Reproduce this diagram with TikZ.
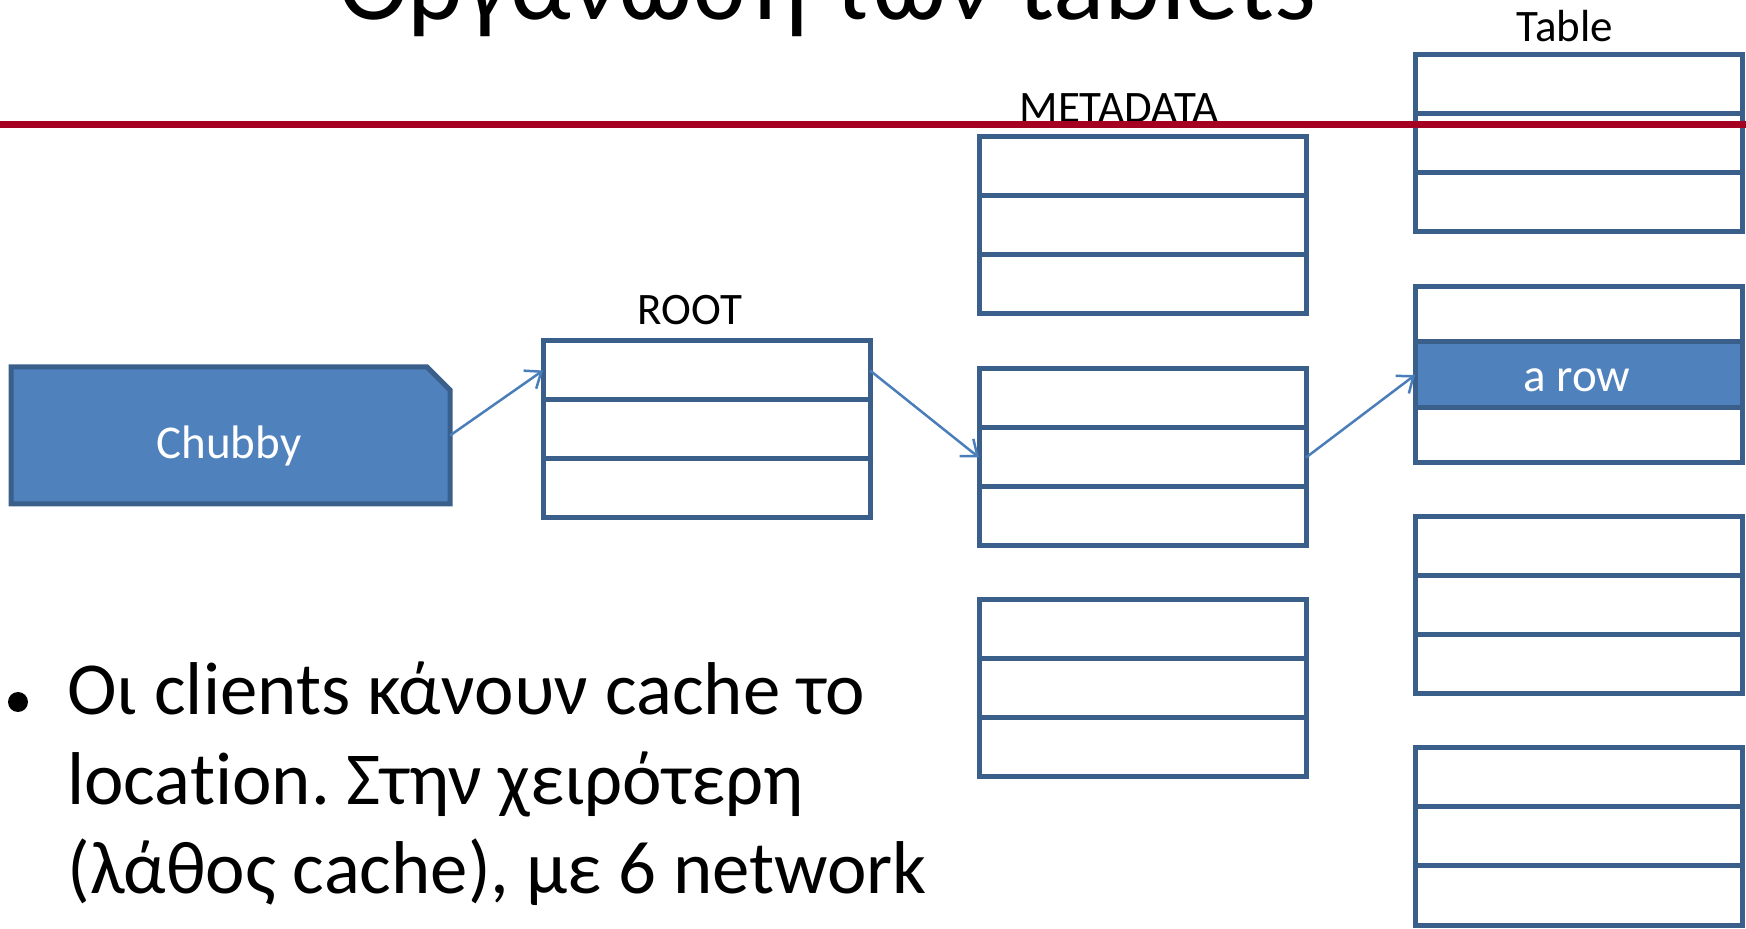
\documentclass[tikz,border=0pt]{standalone}
\usepackage{fontspec}
\setmainfont{Carlito}[Ligatures=NoCommon]
\frenchspacing
\usetikzlibrary{arrows.meta}

\definecolor{boxblue}{HTML}{3A5F8B}
\definecolor{fillblue}{HTML}{4F81BD}
\definecolor{arrowblue}{HTML}{4A7EBB}
\definecolor{rulered}{HTML}{A50021}

\tikzset{
  cell/.style={draw=boxblue, line width=2.5pt, rectangle, inner sep=0pt, outer sep=0pt,
    minimum width=163.5pt, minimum height=29.5pt, anchor=north west},
  lbl/.style={inner sep=0pt, anchor=base, font=\fontsize{22.5}{27}\selectfont},
  inlbl/.style={lbl, text=white, font=\fontsize{23.5}{28}\selectfont},
  link/.style={draw=arrowblue, line width=1.25pt, -{Straight Barb[length=7pt,width=11pt]}},
  bodytxt/.style={inner sep=0pt, anchor=base west, font=\fontsize{37.4}{44.5}\selectfont},
}

\begin{document}
\begin{tikzpicture}[x=0.5pt,y=0.5pt,yscale=-1,xscale=1]
    \useasboundingbox (0,0) rectangle (1746,929);
    \clip (0,0) rectangle (1746,929);

    % Title (cut at the top)
    \node[anchor=base, inner sep=0pt, font=\fontsize{53.5}{64}\selectfont] (title) at (827,20) {Οργάνωση των tablets};

    %Shape: Chubby
    \node[rectangle, inner sep=0pt, outer sep=0pt, minimum width=219.5pt, minimum height=68.5pt] (chubby) at (230.5,435.5) {};
    \draw[draw=boxblue, fill=fillblue, line width=2.5pt] (chubby.north west) -- ([xshift=-11.5pt]chubby.north east) -- ([yshift=11.5pt]chubby.north east) -- (chubby.south east) -- (chubby.south west) -- cycle;
    \node[inlbl] (chubbytxt) at (229,459) {Chubby};

    %Shape: ROOT
    \foreach \i in {1,2,3} {
        \node[cell] (root-\i) at ({543},{341+59*(\i-1)}) {};
    }

    %Shape: METADATA tablets
    \foreach \t/\top in {1/137, 2/369, 3/600} {
        \foreach \i in {1,2,3} {
            \node[cell] (meta\t-\i) at ({979},{\top+59*(\i-1)}) {};
        }
    }

    %Shape: Table tablets
    \foreach \t/\top in {1/55, 3/517, 4/748} {
        \foreach \i in {1,2,3} {
            \node[cell] (tab\t-\i) at ({1415},{\top+59*(\i-1)}) {};
        }
    }
    \node[cell, minimum height=27.5pt] (tab2-1) at (1415,287) {};
    \node[cell, minimum height=33pt, fill=fillblue] (tab2-2) at (1415,342) {};
    \node[cell, minimum height=27.5pt] (tab2-3) at (1415,408) {};
    \node[inlbl] (arowtxt) at (1577,392) {a row};

    %Straight Lines
    \draw[link] (chubby.east) -- (root-1.west);
    \draw[link] (root-1.east) -- (meta2-2.west);
    \draw[link] (meta2-2.east) -- (tab2-2.west);

    % Text Node
    \node[lbl] (rootlbl) at (690,325) {ROOT};
    % Text Node
    \node[lbl] (metalbl) at (1119,123) {METADATA};
    % Text Node
    \node[lbl] (tablelbl) at (1565,42) {Table};

    % Red rule under the title
    \draw[rulered, line width=3.5pt] (0,125) -- (1746,125);

    % Bullet text
    \fill (18,702) circle (5pt);
    \node[bodytxt] (line1) at (67,715) {Οι clients κάνουν cache το};
    \node[bodytxt] (line2) at (67,805) {location. Στην χειρότερη};
    \node[bodytxt] (line3) at (67,893) {(λάθος cache), με 6 network};
\end{tikzpicture}
\end{document}
